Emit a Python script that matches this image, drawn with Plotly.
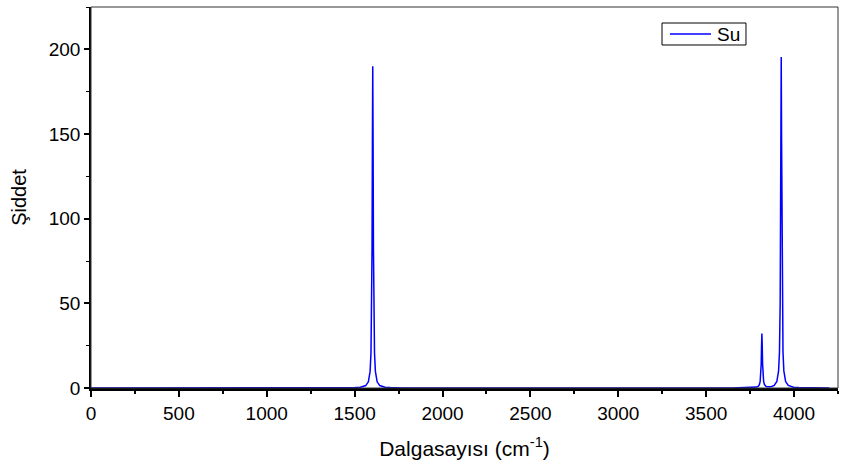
import plotly.graph_objects as go

# Wavenumber (cm^-1) and intensity values
wavenumber = [0, 1440, 1503, 1533, 1563, 1578, 1588, 1593, 1597, 1599, 1601, 1603, 1605, 1607, 1609,
              1613, 1618, 1628, 1643, 1673, 1703, 1770,
              3650, 3740, 3770, 3787, 3797, 3802, 3807, 3811, 3813, 3815, 3817, 3819, 3821, 3823,
              3827, 3832, 3842, 3857, 3872, 3887, 3902, 3912, 3917, 3921, 3923, 3925, 3927, 3929,
              3931, 3933, 3937, 3942, 3952, 3967, 3997, 4027, 4090, 4200]
intensity = [0, 0, 0.23, 0.47, 1.44, 3.65, 9.8, 20.7, 48.2, 82.4, 143.2, 190, 143.2, 82.4, 48.2,
             20.7, 9.8, 3.65, 1.44, 0.47, 0.23, 0,
             0, 0.16, 0.38, 0.55, 1.1, 1.8, 3.7, 8.3, 14.1, 24.3, 32.2, 24.3, 14.1, 8.3,
             3.74, 1.92, 0.93, 0.73, 0.92, 1.57, 3.81, 10.15, 21.3, 49.6, 84.8, 147.4, 195.5, 147.4,
             84.8, 49.6, 21.3, 10.1, 3.8, 1.5, 0.5, 0.24, 0, 0]

series_name = "Su"
x_ticks = [0, 500, 1000, 1500, 2000, 2500, 3000, 3500, 4000]
y_ticks = [0, 50, 100, 150, 200]

FONT = "Liberation Sans, Arial, sans-serif"
LINE_COLOR = "#0000FF"

fig = go.Figure()
fig.add_trace(go.Scatter(
    x=wavenumber, y=intensity, mode="lines", name=series_name,
    line=dict(color=LINE_COLOR, width=1.5), showlegend=False,
))

# Origin-style legend box (drawn in paper coordinates)
legend_shapes = [
    dict(type="rect", xref="paper", yref="paper", x0=0.7644, x1=0.8768, y0=0.9003, y1=0.958,
         line=dict(color="black", width=1), fillcolor="white", layer="above"),
    dict(type="line", xref="paper", yref="paper", x0=0.775, x1=0.830, y0=0.929, y1=0.929,
         line=dict(color=LINE_COLOR, width=1.5), layer="above"),
]

fig.update_layout(
    width=844, height=468,
    margin=dict(l=91, r=6, t=7, b=80),
    paper_bgcolor="white", plot_bgcolor="white",
    font=dict(family=FONT, size=18, color="black"),
    showlegend=False,
    shapes=[dict(type="rect", xref="paper", yref="paper", x0=0, x1=1, y0=0, y1=1,
                 line=dict(color="#333333", width=1), layer="above")] + legend_shapes,
    annotations=[dict(text=series_name, xref="paper", yref="paper", x=0.836, y=0.929,
                      xanchor="left", yanchor="middle", showarrow=False,
                      font=dict(family=FONT, size=19, color="black"))],
)

fig.update_xaxes(
    range=[0, 4250], tickvals=x_ticks, ticktext=[str(v) for v in x_ticks],
    showgrid=False, zeroline=False,
    showline=True, linecolor="black", linewidth=3,
    ticks="outside", ticklen=6, tickwidth=2, tickcolor="black",
    minor=dict(dtick=250, tick0=0, ticks="outside", ticklen=3, tickwidth=1.5, tickcolor="black"),
    tickfont=dict(family=FONT, size=19),
    title=dict(text="Dalgasayısı (cm<sup>-1</sup>)", font=dict(family=FONT, size=21), standoff=19),
)
fig.update_yaxes(
    range=[0, 225], tickvals=y_ticks, ticktext=[str(v) for v in y_ticks],
    showgrid=False, zeroline=False,
    showline=True, linecolor="black", linewidth=1.5,
    ticks="outside", ticklen=5, tickwidth=1.5, tickcolor="black",
    minor=dict(dtick=25, tick0=0, ticks="outside", ticklen=3, tickwidth=1, tickcolor="black"),
    tickfont=dict(family=FONT, size=19),
    title=dict(text="Şiddet", font=dict(family=FONT, size=20), standoff=17),
)

fig.write_html("out.html")
